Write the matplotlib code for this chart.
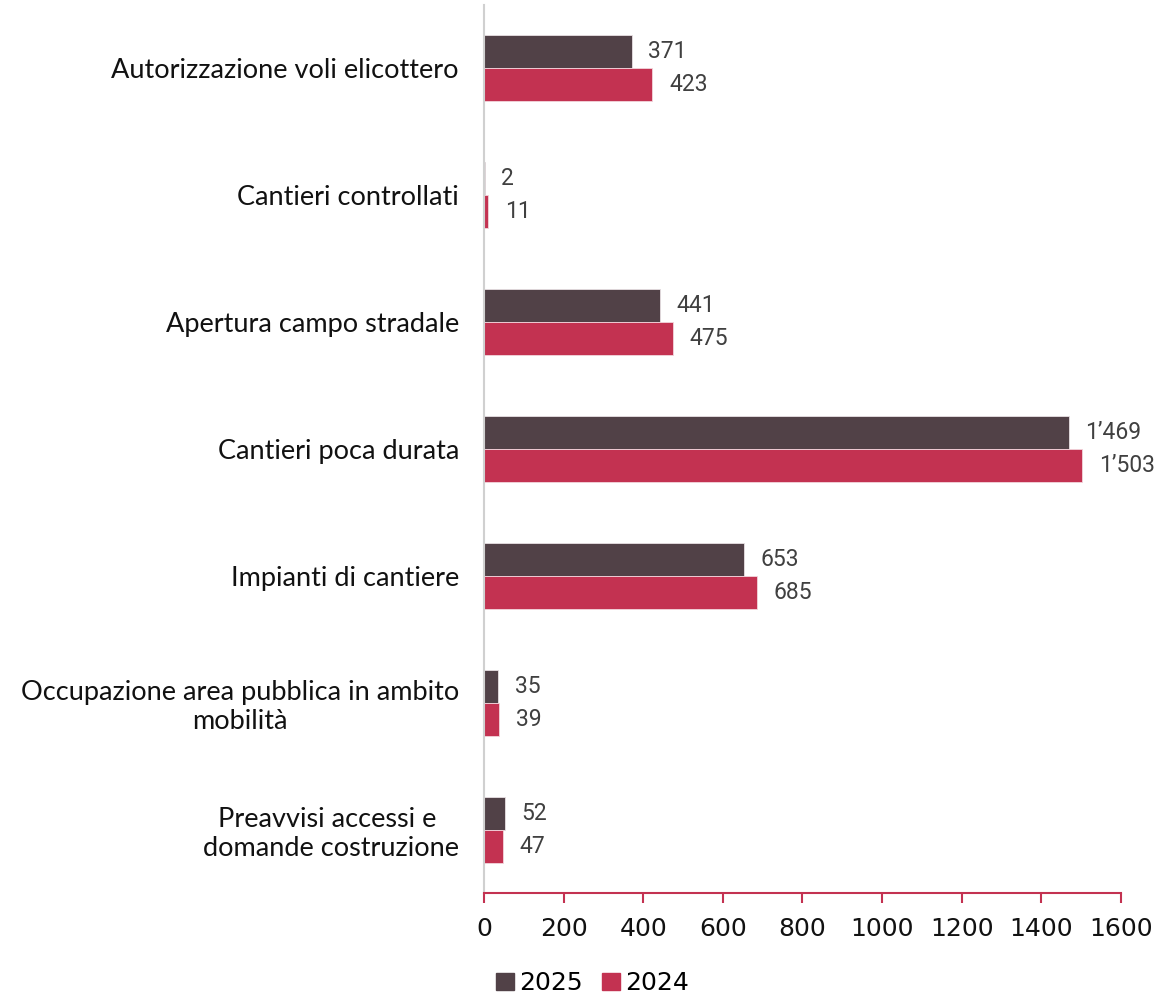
import matplotlib
matplotlib.use("Agg")
import matplotlib.pyplot as plt
import numpy as np
from matplotlib.patches import Patch

categories = [
    "Autorizzazione voli elicottero",
    "Cantieri controllati",
    "Apertura campo stradale",
    "Cantieri poca durata",
    "Impianti di cantiere",
    "Occupazione area pubblica in ambito\nmobilità",
    "Preavvisi accessi e \ndomande costruzione",
]
values_2025 = [371, 2, 441, 1469, 653, 35, 52]
values_2024 = [423, 11, 475, 1503, 685, 39, 47]
xticks = [0, 200, 400, 600, 800, 1000, 1200, 1400, 1600]

color_2025 = "#514147"
color_2024 = "#c33251"
label_color = "#404040"

def fmt(v):
    s = f"{v:,}"
    return s.replace(",", "\u2019")

fig = plt.figure(figsize=(11.55, 9.97), dpi=100)
ax = fig.add_axes([0.419, 0.1043, 0.5516, 0.8907])

y = np.arange(len(categories))
h = 0.26
ax.barh(y - h / 2, values_2025, height=h, color=color_2025,
        edgecolor="#e8e0e3", linewidth=0.6, label="2025")
ax.barh(y + h / 2, values_2024, height=h, color=color_2024,
        edgecolor="#f2d5dc", linewidth=0.6, label="2024")

for yy, v in zip(y - h / 2, values_2025):
    ax.annotate(fmt(v), (v, yy), xytext=(12, 0), textcoords="offset points",
                ha="left", va="center", fontsize=16.5, color=label_color,
                family="Roboto", annotation_clip=False)
for yy, v in zip(y + h / 2, values_2024):
    ax.annotate(fmt(v), (v, yy), xytext=(12, 0), textcoords="offset points",
                ha="left", va="center", fontsize=16.5, color=label_color,
                family="Roboto", annotation_clip=False)

ax.set_ylim(len(categories) - 0.5, -0.5)
ax.set_xlim(0, 1600)
ax.set_yticks(y)
ax.set_yticklabels(categories, fontsize=19.5, family="Lato", color="#111111",
                   ha="right", multialignment="center")
ax.set_xticks(xticks)
ax.set_xticklabels([str(t) for t in xticks], fontsize=18,
                   family=["Liberation Sans Narrow", "DejaVu Sans"], color="#111111")

for s in ["top", "right"]:
    ax.spines[s].set_visible(False)
ax.spines["left"].set_color("#d0d0d0")
ax.spines["left"].set_linewidth(1.5)
ax.spines["bottom"].set_color(color_2024)
ax.spines["bottom"].set_linewidth(1.5)
ax.tick_params(axis="y", length=0, pad=18)
ax.tick_params(axis="x", length=7, width=1.5, color=color_2024, pad=10)

handles = [Patch(color=color_2025, label="2025"), Patch(color=color_2024, label="2024")]
fig.legend(handles=handles, loc="center", bbox_to_anchor=(0.513, 0.014),
           ncol=2, frameon=False, handlelength=0.7, handleheight=0.7,
           handletextpad=0.2, columnspacing=0.8,
           prop={"family": ["Liberation Sans Narrow", "DejaVu Sans"], "size": 18})

fig.savefig("out.png", dpi=100)
